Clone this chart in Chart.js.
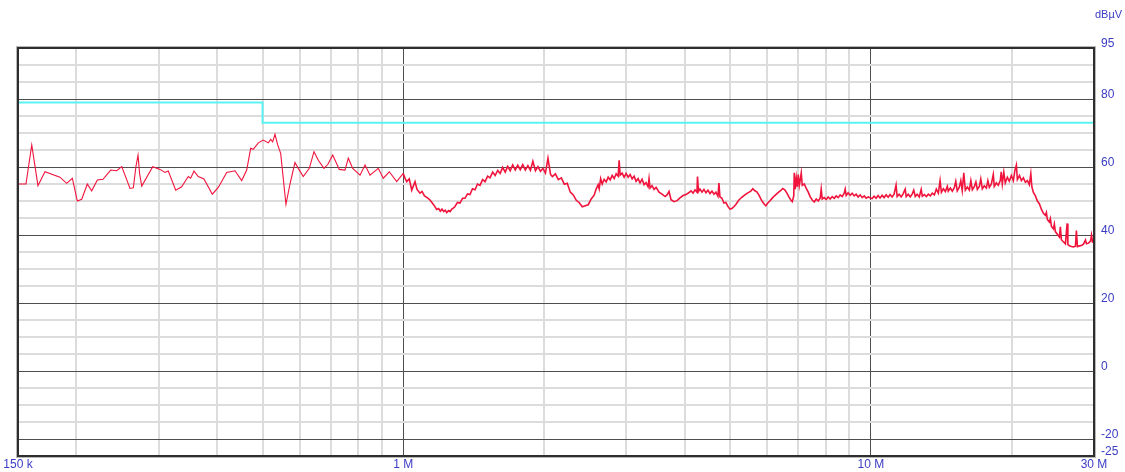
<!DOCTYPE html>
<html>
<head>
<meta charset="utf-8">
<script src="https://cdn.jsdelivr.net/npm/chart.js@4.4.1/dist/chart.umd.min.js"></script>
<style>
  html, body { margin: 0; padding: 0; background: #ffffff; }
  #wrap { width: 1125px; height: 472px; }
</style>
</head>
<body>
<div id="wrap"><canvas id="c" width="1125" height="472"></canvas></div>
<script>
// Conducted emission scan, 150 kHz .. 30 MHz (frequency in MHz, level in dBuV)
const freqLowMHz = [0.150, 0.156, 0.1605, 0.1655, 0.1713, 0.1844, 0.1906, 0.196, 0.2009, 0.2053, 0.211, 0.2156, 0.2217, 0.228, 0.2368, 0.2439, 0.25, 0.2604, 0.2647, 0.268, 0.2709, 0.273, 0.2759, 0.2912, 0.3018, 0.3093, 0.3144, 0.3261, 0.3358, 0.3469, 0.351, 0.3568, 0.3644, 0.3748, 0.3905, 0.4022, 0.4191, 0.4367, 0.4513, 0.4626, 0.4717, 0.4778, 0.4897, 0.5019, 0.5144, 0.5205, 0.5257, 0.5317, 0.5388, 0.5468, 0.5612, 0.5724, 0.5867, 0.5963, 0.6111, 0.6296, 0.6443, 0.6581, 0.6768, 0.6900, 0.7065, 0.7298, 0.7505, 0.7629, 0.7796, 0.8082, 0.8283, 0.849, 0.8843, 0.9063, 0.9335, 0.9681];
const levelLow = [55, 55, 66.5, 54.5, 58.6, 57, 55.2, 56.7, 50, 50.5, 55, 53, 56.2, 56.4, 59.1, 58.9, 60.1, 53.7, 53.9, 60, 63.5, 58, 54.4, 60.1, 59.3, 58.4, 58.8, 53.2, 54.2, 57.2, 56.7, 58.8, 57.2, 56.5, 52, 54, 58.4, 58.9, 56, 59.1, 65.5, 65.2, 67.1, 67.9, 67.1, 68.1, 67.4, 69.6, 66.5, 64, 49, 55, 61.3, 59.6, 57.2, 59.6, 64.5, 62, 59.6, 60.8, 63.5, 59.3, 59.1, 62.6, 59.6, 57.6, 60.6, 57.6, 59.6, 56.7, 58.6, 55.7];

const freqMidMHz = [1.0, 1.008, 1.017, 1.03, 1.0425, 1.0595, 1.07, 1.0859, 1.097, 1.11, 1.125, 1.1407, 1.16, 1.1789, 1.19, 1.2, 1.21, 1.22, 1.23, 1.2385, 1.25, 1.26, 1.27, 1.2794,
  1.29, 1.306, 1.322, 1.339, 1.355, 1.372, 1.389, 1.406, 1.424, 1.441, 1.459, 1.478, 1.496, 1.515, 1.533, 1.553, 1.572, 1.592, 1.611, 1.631, 1.652, 1.672, 1.693, 1.714, 1.736, 1.757, 1.779, 1.801, 1.824, 1.847, 1.870, 1.893, 1.917, 1.941, 1.965, 1.989, 2.014, 2.039, 2.065,
  2.084, 2.115, 2.146, 2.178, 2.21, 2.242, 2.276, 2.31, 2.344, 2.379, 2.414, 2.45, 2.486, 2.523, 2.56, 2.585, 2.611, 2.624, 2.643, 2.663, 2.689, 2.716, 2.743, 2.770, 2.797, 2.825, 2.853, 2.881, 2.895, 2.909, 2.938, 2.967, 2.996, 3.026, 3.056, 3.086, 3.116, 3.147, 3.178, 3.209, 3.241, 3.273, 3.305, 3.338, 3.354, 3.371, 3.404, 3.438, 3.472, 3.523, 3.576, 3.629, 3.665, 3.701, 3.738, 3.793, 3.85, 3.907, 3.965, 4.024, 4.084, 4.124, 4.165, 4.206, 4.247, 4.258, 4.279, 4.31, 4.353, 4.396, 4.439, 4.483, 4.527, 4.572, 4.617, 4.662, 4.709, 4.732, 4.755, 4.802, 4.849, 4.897, 4.945, 4.994, 5.043, 5.093, 5.143, 5.22, 5.297, 5.376, 5.456, 5.537, 5.592, 5.647, 5.703, 5.759, 5.816, 5.873, 5.931, 5.96, 6.02, 6.079, 6.139, 6.23, 6.323, 6.417, 6.48, 6.544, 6.609, 6.674, 6.74, 6.79, 6.84, 6.857, 6.891, 6.925, 6.959, 6.993, 7.028, 7.062, 7.097, 7.132, 7.203, 7.274, 7.346, 7.418, 7.492, 7.566, 7.64, 7.716, 7.792, 7.83, 7.869, 7.946, 8.025, 8.104, 8.184, 8.265, 8.347, 8.429, 8.513, 8.597, 8.682, 8.768, 8.811, 8.855, 8.942, 9.03, 9.12, 9.21, 9.30, 9.39, 9.49, 9.58, 9.68, 9.77, 9.87];
const levelMid = [58.1, 56.8, 55.7, 56.5, 53.2, 55.7, 53.4, 52.3, 52.8, 51.5, 51.0, 50.3, 49.0, 47.5, 47.8, 47.0, 47.6, 46.9, 47.3, 46.6, 47.2, 46.9, 47.6, 47.9,
  48.4, 49.6, 49.4, 50.8, 50.8, 52.1, 51.9, 53.6, 53.3, 55.0, 54.6, 56.3, 55.7, 57.3, 56.8, 58.5, 57.5, 59.0, 58.1, 59.9, 58.5, 60.2, 58.9, 60.6, 59.1, 60.5, 59.2, 60.7, 59.1, 60.4, 59.0, 61.7, 58.9, 60.1, 58.7, 59.6, 58.2, 62.6, 57.8,
  57.2, 58.0, 56.3, 56.8, 54.9, 55.2, 52.6, 51.8, 50.2, 49.5, 48.3, 48.6, 48.9, 50.6, 51.7, 53.5, 54.8, 53.6, 56.6, 55.0, 56.4, 55.6, 57.0, 56.2, 57.5, 56.6, 58.0, 57.3, 62.0, 57.6, 58.2, 57.0, 58.1, 57.0, 57.8, 56.5, 57.3, 55.8, 56.6, 55.3, 56.4, 54.8, 55.4, 54.2, 56.6, 53.8, 54.5, 53.4, 54.0, 52.6, 52.0, 51.3, 51.8, 52.8, 50.4, 49.8, 50.1, 50.9, 51.6, 51.9, 52.5, 53.0, 52.3, 53.3, 52.6, 57.2, 52.8, 53.5, 52.6, 53.4, 52.4, 53.2, 52.2, 52.9, 52.0, 52.6, 51.4, 55.3, 51.2, 50.8, 49.4, 49.6, 48.4, 47.6, 47.8, 48.3, 49.0, 50.3, 51.1, 51.8, 52.4, 52.9, 53.6, 53.0, 52.7, 51.8, 50.6, 49.6, 48.9, 48.6, 49.4, 50.0, 50.7, 51.6, 52.4, 53.1, 53.7, 53.3, 52.4, 51.3, 50.3, 49.8, 51.5, 58.3, 53.5, 56.8, 54.2, 57.8, 54.5, 56.2, 58.2, 54.6, 55.0, 53.7, 52.6, 51.2, 50.3, 49.7, 50.6, 50.0, 50.9, 53.5, 50.6, 51.0, 50.4, 51.2, 50.6, 51.3, 50.8, 51.5, 51.0, 51.8, 51.3, 52.3, 53.5, 51.6, 52.4, 51.7, 52.3, 51.5, 52.0, 51.2, 51.8, 51.0, 51.5, 50.8, 51.2];

const freqHighMHz = [10.06, 10.16, 10.26, 10.36, 10.46, 10.57, 10.67, 10.78, 10.89, 10.99, 11.10, 11.21, 11.32, 11.38, 11.49, 11.61, 11.72, 11.84, 11.90, 12.02, 12.14, 12.26, 12.35, 12.44, 12.56, 12.69, 12.81, 12.88, 13.01, 13.14, 13.27, 13.4, 13.53, 13.67, 13.8, 13.94, 14.06, 14.15, 14.29, 14.43, 14.57, 14.64, 14.79, 14.93, 15.08, 15.19, 15.30, 15.45, 15.57, 15.68, 15.80, 15.92, 16.08, 16.24, 16.36, 16.48, 16.64, 16.77, 16.89, 17.06, 17.18, 17.31, 17.48, 17.66, 17.79, 17.92, 18.1, 18.27, 18.36, 18.54, 18.73, 18.91, 19.0, 19.1, 19.24, 19.38, 19.58, 19.77, 19.97, 20.17, 20.32, 20.47, 20.57, 20.78, 20.98, 21.19, 21.4, 21.61, 21.82, 21.98, 22.09, 22.26, 22.48, 22.7, 22.92, 23.15, 23.38, 23.61, 23.73, 23.84, 24.08, 24.2, 24.32, 24.56, 24.68, 24.8, 25.05, 25.3, 25.42, 25.55, 25.8, 26.06, 26.28, 26.38, 26.58, 26.84, 27.11, 27.38, 27.51, 27.65, 27.93, 28.2, 28.48, 28.77, 28.91, 29.2, 29.49, 29.63, 29.78, 30.0];
const levelHigh = [50.7, 51.4, 50.8, 51.6, 50.9, 51.7, 51.0, 51.8, 51.1, 51.9, 51.2, 52.0, 54.7, 51.3, 52.0, 51.2, 52.1, 53.5, 51.3, 52.0, 51.2, 52.1, 53.2, 51.3, 52.0, 51.2, 53.4, 51.4, 51.9, 51.3, 52.0, 51.5, 52.3, 51.8, 53.5, 52.3, 56.0, 52.6, 53.6, 52.8, 54.3, 52.9, 53.8, 52.9, 53.9, 55.8, 53.0, 54.0, 56.0, 53.1, 58.3, 53.2, 54.1, 53.2, 56.0, 53.3, 54.2, 55.6, 53.4, 54.3, 56.5, 53.6, 54.5, 53.8, 56.0, 54.0, 55.0, 57.8, 54.3, 55.3, 54.6, 56.0, 58.6, 55.0, 58.5, 55.3, 57.0, 55.8, 57.5, 56.0, 59.0, 60.6, 56.3, 57.5, 56.0, 56.8, 55.5, 56.0, 54.8, 58.0, 54.2, 52.5, 51.5, 50.0, 49.2, 47.6, 46.4, 45.8, 46.6, 44.6, 43.8, 44.8, 42.6, 41.8, 43.2, 41.0, 40.2, 39.4, 42.4, 38.6, 38.0, 37.4, 43.4, 37.2, 36.8, 36.6, 36.5, 36.7, 41.3, 36.6, 36.8, 36.9, 37.3, 38.5, 37.4, 37.6, 38.2, 40.0, 38.0, 38.3];

// Limit line (stepped at 500 kHz)
const limitFreqMHz = [0.15, 0.5, 0.5, 30];
const limitLevel = [79, 79, 73, 73];

// Axis grid and labels
const xGridMHz = [0.15, 0.2, 0.3, 0.4, 0.5, 0.6, 0.7, 0.8, 0.9, 1, 2, 3, 4, 5, 6, 7, 8, 9, 10, 20, 30];
const xMajorMHz = [1, 10];
const xTickValues = [0.15, 1, 10, 30];
const xTickLabels = ['150 k', '1 M', '10 M', '30 M'];
const yGridDb = [-25, -20, -15, -10, -5, 0, 5, 10, 15, 20, 25, 30, 35, 40, 45, 50, 55, 60, 65, 70, 75, 80, 85, 90, 95];
const yMajorDb = [-20, 0, 20, 40, 60, 80];
const yTickLabels = [95, 80, 60, 40, 20, 0, -20, -25];
const unitLabel = 'dB\u00B5V';

const toPoints = (fs, ls) => fs.map((f, i) => ({ x: f, y: ls[i] }));
// Sparse low band is drawn thin; the densely sampled band above 1 MHz a little heavier
const lowBandPoints = toPoints(freqLowMHz, levelLow).concat([{ x: freqMidMHz[0], y: levelMid[0] }]);
const upperBandPoints = [].concat(
  toPoints(freqMidMHz, levelMid),
  toPoints(freqHighMHz, levelHigh)
);
const limitPoints = toPoints(limitFreqMHz, limitLevel);

const labelColor = '#3b3bc4';
const labelFont = { family: "'Liberation Sans', Arial, sans-serif", size: 12 };
const gridMinor = '#dcdcdc';
const gridMajor = '#4e4e4e';
const traceColor = '#f0143c';

const framePlugin = {
  id: 'frame',
  afterDraw(chart) {
    const { ctx, chartArea: a } = chart;
    ctx.save();
    ctx.strokeStyle = '#b8b8b8';
    ctx.lineWidth = 1;
    ctx.strokeRect(a.left - 1.5, a.top - 1.5, a.right - a.left + 3, a.bottom - a.top + 3);
    ctx.strokeStyle = '#2e2e2e';
    ctx.lineWidth = 2;
    ctx.strokeRect(a.left, a.top, a.right - a.left, a.bottom - a.top);
    ctx.fillStyle = labelColor;
    ctx.font = "11px 'Liberation Sans', Arial, sans-serif";
    ctx.textAlign = 'left';
    ctx.textBaseline = 'middle';
    ctx.fillText(unitLabel, a.right + 1, 15);
    ctx.restore();
  }
};

new Chart(document.getElementById('c'), {
  type: 'line',
  data: {
    datasets: [
      {
        data: limitPoints,
        borderColor: '#5cf2f2',
        borderWidth: 2,
        pointRadius: 0,
        tension: 0
      },
      {
        data: lowBandPoints,
        borderColor: traceColor,
        borderWidth: 1.1,
        pointRadius: 0,
        tension: 0
      },
      {
        data: upperBandPoints,
        borderColor: traceColor,
        borderWidth: 1.6,
        pointRadius: 0,
        tension: 0
      }
    ]
  },
  options: {
    responsive: false,
    animation: false,
    layout: { padding: { left: 18, top: 48, right: 0, bottom: 0 } },
    plugins: { legend: { display: false }, tooltip: { enabled: false } },
    scales: {
      x: {
        type: 'logarithmic',
        min: 0.15,
        max: 30,
        afterBuildTicks: axis => { axis.ticks = xGridMHz.map(v => ({ value: v })); },
        afterFit: axis => { axis.height = 16; },
        border: { display: false },
        grid: {
          drawTicks: false,
          lineWidth: c => xMajorMHz.includes(c.tick && c.tick.value) ? 1 : 2,
          color: c => xMajorMHz.includes(c.tick && c.tick.value) ? gridMajor : gridMinor
        },
        ticks: {
          autoSkip: false,
          maxRotation: 0,
          padding: 1,
          color: labelColor,
          font: labelFont,
          callback: v => {
            const i = xTickValues.indexOf(v);
            return i >= 0 ? xTickLabels[i] : '';
          }
        }
      },
      y: {
        position: 'right',
        min: -25,
        max: 95,
        afterBuildTicks: axis => { axis.ticks = yGridDb.map(v => ({ value: v })); },
        afterFit: axis => { axis.width = 31; },
        border: { display: false },
        grid: {
          drawTicks: false,
          lineWidth: c => yMajorDb.includes(c.tick && c.tick.value) ? 1 : 2,
          color: c => yMajorDb.includes(c.tick && c.tick.value) ? gridMajor : gridMinor
        },
        ticks: {
          autoSkip: false,
          padding: 7,
          labelOffset: -4,
          color: labelColor,
          font: labelFont,
          callback: v => yTickLabels.includes(v) ? String(v) : ''
        }
      }
    }
  },
  plugins: [framePlugin]
});
</script>
</body>
</html>
